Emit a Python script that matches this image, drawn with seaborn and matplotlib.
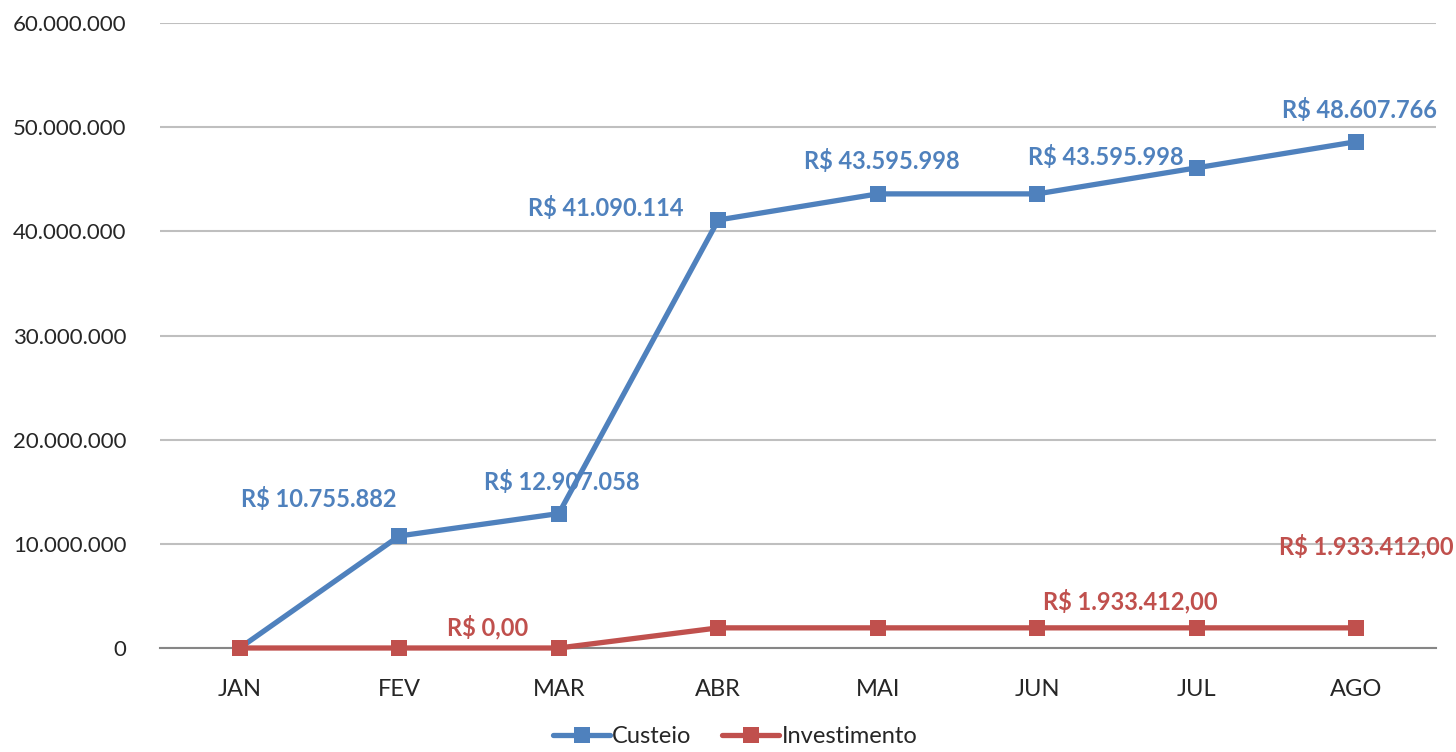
import pandas as pd
import matplotlib
matplotlib.use("Agg")
import matplotlib.pyplot as plt
import seaborn as sns
from matplotlib.ticker import FuncFormatter, MultipleLocator

# Data
months = ["JAN", "FEV", "MAR", "ABR", "MAI", "JUN", "JUL", "AGO"]
custeio = [0, 10755882, 12907058, 41090114, 43595998, 43595998, 46100000, 48607766]
investimento = [0, 0, 0, 1933412, 1933412, 1933412, 1933412, 1933412]

# Data labels: (month, text, x offset px, y offset px)
labels_custeio = [
    ("FEV", "R$ 10.755.882", -80, 37),
    ("MAR", "R$ 12.907.058", 3, 32),
    ("ABR", "R$ 41.090.114", -113, 12),
    ("MAI", "R$ 43.595.998", 4, 33),
    ("JUL", "R$ 43.595.998", -91, 11),
    ("AGO", "R$ 48.607.766", 3, 32),
]
labels_invest = [
    ("MAR", "R$ 0,00", -71, 21),
    ("JUL", "R$ 1.933.412,00", -66, 27),
    ("AGO", "R$ 1.933.412,00", 10, 82),
]

blue = "#4F81BD"
red = "#C0504D"

df = pd.DataFrame({
    "Mes": months * 2,
    "Valor": custeio + investimento,
    "Serie": ["Custeio"] * len(months) + ["Investimento"] * len(months),
})

sns.set_style("white")
plt.rcParams["font.family"] = ["Lato", "DejaVu Sans"]

fig = plt.figure(figsize=(14.56, 7.52), dpi=100)
ax = fig.add_axes([0.1099, 0.1383, 0.8764, 0.8311])

sns.lineplot(data=df, x="Mes", y="Valor", hue="Serie",
             palette={"Custeio": blue, "Investimento": red},
             style="Serie", markers={"Custeio": "s", "Investimento": "s"},
             dashes=False, linewidth=3.8, markersize=11.5, markeredgewidth=0,
             sort=False, ax=ax, legend=True)
for line in ax.lines:
    line.set_clip_on(False)
    line.set_zorder(5)

ax.set_ylim(0, 60000000)
ax.set_xlim(-0.5, 7.5)
ax.yaxis.set_major_locator(MultipleLocator(10000000))
ax.yaxis.set_major_formatter(FuncFormatter(lambda v, p: f"{v:,.0f}".replace(",", ".")))
ax.grid(axis="y", color="#BFBFBF", linewidth=1.5)
ax.set_axisbelow(True)
for s in ["top", "right", "left"]:
    ax.spines[s].set_visible(False)
ax.spines["bottom"].set_color("#868686")
ax.spines["bottom"].set_linewidth(1.5)

ax.set_xlabel("")
ax.set_ylabel("")
ax.tick_params(axis="y", length=0, labelsize=16, pad=24)
ax.set_xticks(range(len(months)))
ax.set_xticks([i - 0.5 for i in range(len(months) + 1)], minor=True)
ax.tick_params(axis="x", which="major", direction="inout", length=10, width=1.5,
               color="#868686", labelsize=17, pad=17)
ax.tick_params(axis="x", which="minor", direction="inout", length=16,
               width=1.5, color="#868686")

for m, txt, dx, dy in labels_custeio:
    i = months.index(m)
    ax.annotate(txt, (m, custeio[i]), xytext=(dx, dy), textcoords="offset pixels",
                ha="center", va="center", color=blue, fontsize=17, fontweight="bold")
for m, txt, dx, dy in labels_invest:
    i = months.index(m)
    ax.annotate(txt, (m, investimento[i]), xytext=(dx, dy), textcoords="offset pixels",
                ha="center", va="center", color=red, fontsize=17, fontweight="bold",
                annotation_clip=False)

handles, labels = ax.get_legend_handles_labels()
ax.get_legend().remove()
fig.legend(handles, labels, loc="center", bbox_to_anchor=(0.505, 0.02), ncol=2,
           frameon=False, fontsize=17, handlelength=2.4, handletextpad=0.1,
           columnspacing=1.3)

fig.savefig("out.png", dpi=100)
